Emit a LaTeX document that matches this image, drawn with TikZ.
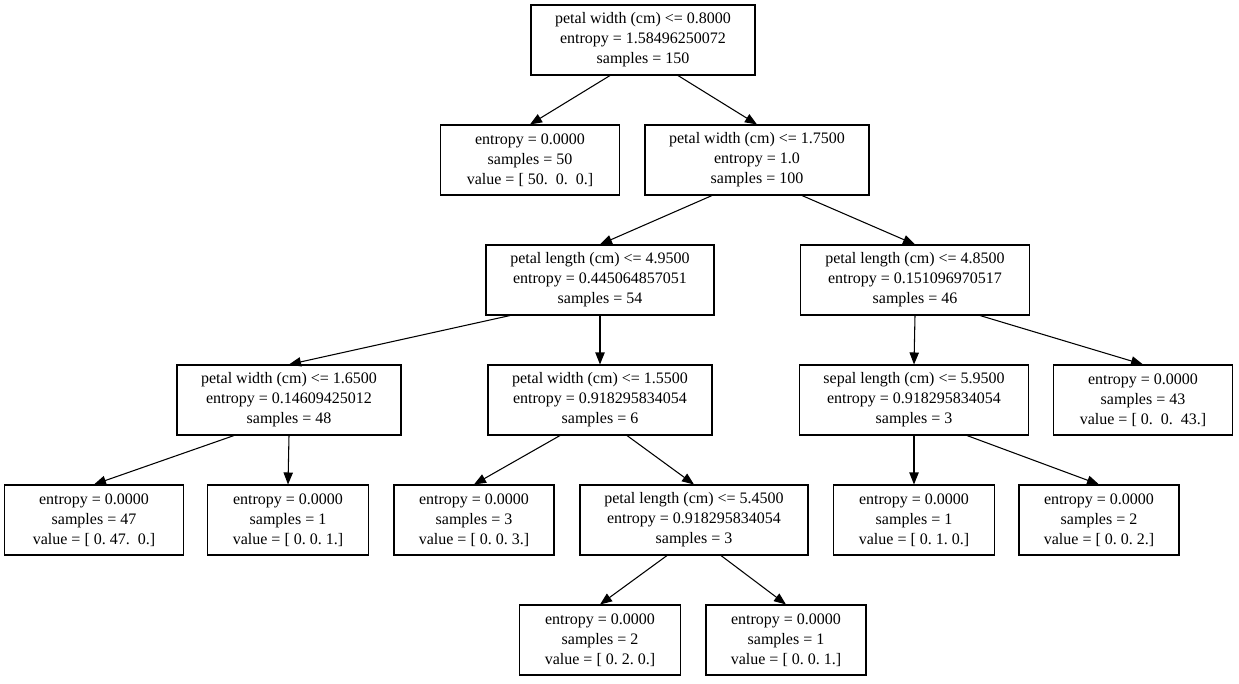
\documentclass[tikz,border=0pt]{standalone}
\usepackage{fontspec}
\setmainfont{Liberation Serif}
\usetikzlibrary{arrows.meta}
\begin{document}
\begin{tikzpicture}[x=0.75pt,y=-0.75pt,
 box/.style={draw,line width=0.8pt,minimum height=52.5pt,align=center,font=\fontsize{12}{15}\selectfont,inner sep=0pt},
 e/.style={-{Triangle[length=9pt,width=7pt]},line width=0.8pt}]
\useasboundingbox (0,0) rectangle (1239,683);
\def\s{\ \ }
\node[box,minimum width=168pt] (r) at (643,40) {petal width (cm) <= 0.8000\\entropy = 1.58496250072\\samples = 150};
\node[box,minimum width=134pt] (n1) at (530,160) {entropy = 0.0000\\samples = 50\\value = [ 50.\s 0.\s 0.]};
\node[box,minimum width=168pt] (n2) at (757,160) {petal width (cm) <= 1.7500\\entropy = 1.0\\samples = 100};
\node[box,minimum width=171pt] (n3) at (600,280) {petal length (cm) <= 4.9500\\entropy = 0.445064857051\\samples = 54};
\node[box,minimum width=172pt] (n4) at (915,280) {petal length (cm) <= 4.8500\\entropy = 0.151096970517\\samples = 46};
\node[box,minimum width=168pt] (n5) at (289,400) {petal width (cm) <= 1.6500\\entropy = 0.14609425012\\samples = 48};
\node[box,minimum width=168pt] (n6) at (600,400) {petal width (cm) <= 1.5500\\entropy = 0.918295834054\\samples = 6};
\node[box,minimum width=172pt] (n7) at (914,400) {sepal length (cm) <= 5.9500\\entropy = 0.918295834054\\samples = 3};
\node[box,minimum width=134pt] (n8) at (1143,400) {entropy = 0.0000\\samples = 43\\value = [\ 0.\s 0.\s 43.]};
\node[box,minimum width=134pt] (n9) at (94,520) {entropy = 0.0000\\samples = 47\\value = [\ 0.\ 47.\s 0.]};
\node[box,minimum width=121pt] (n10) at (288,520) {entropy = 0.0000\\samples = 1\\value = [ 0.\ 0.\ 1.]};
\node[box,minimum width=120pt] (n11) at (474,520) {entropy = 0.0000\\samples = 3\\value = [ 0.\ 0.\ 3.]};
\node[box,minimum width=171pt] (n12) at (694,520) {petal length (cm) <= 5.4500\\entropy = 0.918295834054\\samples = 3};
\node[box,minimum width=121pt] (n13) at (914,520) {entropy = 0.0000\\samples = 1\\value = [ 0.\ 1.\ 0.]};
\node[box,minimum width=120pt] (n14) at (1099,520) {entropy = 0.0000\\samples = 2\\value = [ 0.\ 0.\ 2.]};
\node[box,minimum width=121pt] (n15) at (600,640) {entropy = 0.0000\\samples = 2\\value = [ 0.\ 2.\ 0.]};
\node[box,minimum width=120pt] (n16) at (786,640) {entropy = 0.0000\\samples = 1\\value = [ 0.\ 0.\ 1.]};
\draw[e] (r.south) ++(-33,0) -- (n1.north);
\draw[e] (r.south) ++(35,0) -- (n2.north);
\draw[e] (n2.south) ++(-45,0) -- (n3.north);
\draw[e] (n2.south) ++(45,0) -- (n4.north);
\draw[e] (n3.south) ++(-90,0) -- (n5.north);
\draw[e] (n3.south) -- (n6.north);
\draw[e] (n4.south) -- (n7.north);
\draw[e] (n4.south) ++(65,0) -- (n8.north);
\draw[e] (n5.south) ++(-55,0) -- (n9.north);
\draw[e] (n5.south) -- (n10.north);
\draw[e] (n6.south) ++(-40,0) -- (n11.north);
\draw[e] (n6.south) ++(27,0) -- (n12.north);
\draw[e] (n7.south) -- (n13.north);
\draw[e] (n7.south) ++(53,0) -- (n14.north);
\draw[e] (n12.south) ++(-27,0) -- (n15.north);
\draw[e] (n12.south) ++(27,0) -- (n16.north);
\end{tikzpicture}
\end{document}
